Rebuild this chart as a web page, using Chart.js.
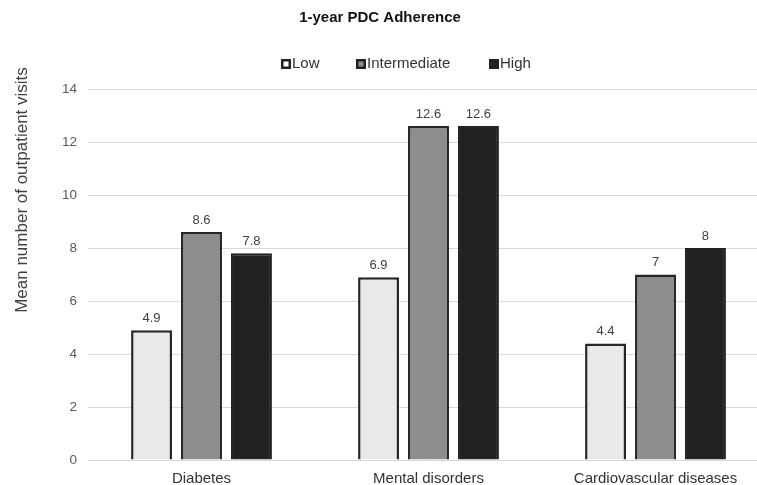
<!DOCTYPE html>
<html>
<head>
<meta charset="utf-8">
<script src="https://cdn.jsdelivr.net/npm/chart.js@4/dist/chart.umd.min.js"></script>
<style>
  html, body { margin: 0; padding: 0; background: #fff; }
  #wrap { width: 757px; height: 485px; overflow: hidden; position: relative; }
  #chart { display: block; }
</style>
</head>
<body>
<div id="wrap"><canvas id="chart" width="772" height="485"></canvas></div>
<script>
const categories = ["Diabetes", "Mental disorders", "Cardiovascular diseases"];
const lowValues = [4.9, 6.9, 4.4];
const intermediateValues = [8.6, 12.6, 7];
const highValues = [7.8, 12.6, 8];
const yTicks = [0, 2, 4, 6, 8, 10, 12, 14];

const chartTitle = "1-year PDC Adherence";
const yTitle = "Mean number of outpatient visits";
const FONT = "'Liberation Sans', Arial, sans-serif";

// value labels above each bar
const valueLabels = {
  id: "valueLabels",
  afterDatasetsDraw(chart) {
    const ctx = chart.ctx;
    ctx.save();
    ctx.font = "13px " + FONT;
    ctx.fillStyle = "#404040";
    ctx.textAlign = "center";
    ctx.textBaseline = "middle";
    chart.data.datasets.forEach((ds, i) => {
      chart.getDatasetMeta(i).data.forEach((bar, j) => {
        ctx.fillText(String(ds.data[j]), bar.x, bar.y - 12);
      });
    });
    ctx.restore();
  },
};

// title, legend row and rotated y title, placed like the original figure
const extras = {
  id: "extras",
  afterDraw(chart) {
    const ctx = chart.ctx;
    ctx.save();
    ctx.textBaseline = "middle";
    ctx.textAlign = "center";
    ctx.font = "bold 15px " + FONT;
    ctx.fillStyle = "#111";
    ctx.fillText(chartTitle, 380, 18);

    ctx.font = "15px " + FONT;
    ctx.textAlign = "left";
    const boxX = [281, 356, 489];
    const boxFill = ["#ffffff", "#8d8d8d", "#222222"];
    chart.data.datasets.forEach((ds, i) => {
      const x = boxX[i];
      ctx.fillStyle = boxFill[i];
      ctx.fillRect(x, 59, 10, 10);
      ctx.strokeStyle = "#222";
      ctx.lineWidth = 2.5;
      ctx.strokeRect(x + 1.25, 60.25, 7.5, 7.5);
      ctx.fillStyle = "#333";
      ctx.fillText(ds.label, x + 11, 64);
    });

    ctx.translate(22, 190);
    ctx.rotate(-Math.PI / 2);
    ctx.textAlign = "center";
    ctx.font = "17px " + FONT;
    ctx.fillStyle = "#404040";
    ctx.fillText(yTitle, 0, 0);
    ctx.restore();
  },
};

new Chart(document.getElementById("chart"), {
  type: "bar",
  data: {
    labels: categories,
    datasets: [
      {
        label: "Low",
        data: lowValues,
        backgroundColor: "#e9e9e9",
        borderColor: "#262626",
        borderWidth: 2.5,
      },
      {
        label: "Intermediate",
        data: intermediateValues,
        backgroundColor: "#8d8d8d",
        borderColor: "#262626",
        borderWidth: 2.5,
      },
      {
        label: "High",
        data: highValues,
        backgroundColor: "#222222",
        borderColor: "#222222",
        borderWidth: 2,
      },
    ],
  },
  plugins: [valueLabels, extras],
  options: {
    responsive: false,
    animation: false,
    layout: { padding: { top: 89, right: 3, bottom: 0, left: 0 } },
    datasets: {
      bar: { categoryPercentage: 0.66, barPercentage: 0.82 },
    },
    plugins: {
      legend: { display: false },
      tooltip: { enabled: false },
      title: { display: false },
    },
    scales: {
      x: {
        grid: { display: false, drawTicks: false },
        border: { display: false },
        ticks: {
          color: "#333",
          font: { family: FONT, size: 15 },
          padding: 10,
          maxRotation: 0,
        },
        afterFit(scale) {
          scale.height = 25;
        },
      },
      y: {
        min: 0,
        max: 14,
        afterBuildTicks(scale) {
          scale.ticks = yTicks.map((v) => ({ value: v }));
        },
        grid: { color: "#d9d9d9", lineWidth: 1, drawTicks: false },
        border: { display: false },
        ticks: {
          color: "#595959",
          font: { family: FONT, size: 13.5 },
          padding: 11,
        },
        afterFit(scale) {
          scale.width = 88;
        },
      },
    },
  },
});
</script>
</body>
</html>
